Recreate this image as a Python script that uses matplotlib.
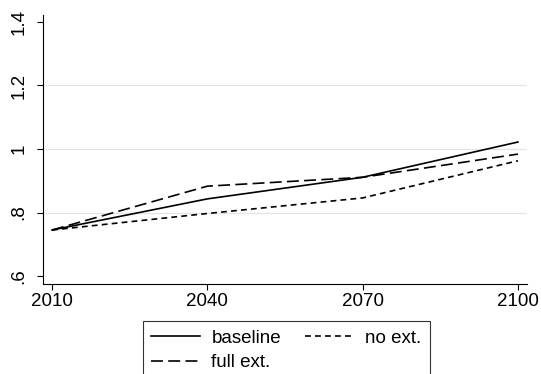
import matplotlib.pyplot as plt

plt.rcParams['font.family'] = ['Liberation Sans', 'DejaVu Sans']
plt.rcParams['lines.scale_dashes'] = False

years = [2010, 2040, 2070, 2100]
baseline = [0.745, 0.843, 0.911, 1.022]
full_ext = [0.745, 0.883, 0.911, 0.984]
no_ext = [0.745, 0.797, 0.846, 0.963]

yticks = [0.6, 0.8, 1.0, 1.2, 1.4]
ytick_labels = ['.6', '.8', '1', '1.2', '1.4']

fig = plt.figure(figsize=(5.41, 3.74), dpi=100)
ax = fig.add_axes([0.0795, 0.2406, 0.8945, 0.7194])

for y in [0.8, 1.0, 1.2]:
    ax.axhline(y, color='#e4e4e4', lw=0.9, zorder=0)

l1, = ax.plot(years, baseline, color='black', lw=1.2, label='baseline')
l2, = ax.plot(years, full_ext, color='black', lw=1.2, dashes=(8.6, 3.8), label='full ext.')
l3, = ax.plot(years, no_ext, color='black', lw=1.2, dashes=(4.2, 3.0), label='no ext.')

ax.set_xlim(2008.26, 2101.74)
ax.set_ylim(0.575, 1.422)
ax.set_xticks(years)
ax.set_yticks(yticks)
ax.set_yticklabels(ytick_labels, rotation=90, va='center')
ax.tick_params(axis='both', labelsize=13.5, length=4, width=0.8, direction='out')
ax.tick_params(axis='y', pad=7)
ax.tick_params(axis='x', pad=2.5)
for s in ['top', 'right']:
    ax.spines[s].set_visible(False)

leg = ax.legend(handles=[l1, l2, l3], ncol=2, loc='upper left',
                bbox_to_anchor=(143 / 541, 1 - 321 / 374),
                bbox_transform=fig.transFigure, fontsize=13.5,
                frameon=True, fancybox=False, edgecolor='black',
                handlelength=2.6, handletextpad=0.6, columnspacing=1.3,
                labelspacing=0.4, borderpad=0.45, borderaxespad=0)
leg.get_frame().set_linewidth(0.8)

fig.savefig('out.png', dpi=100)
